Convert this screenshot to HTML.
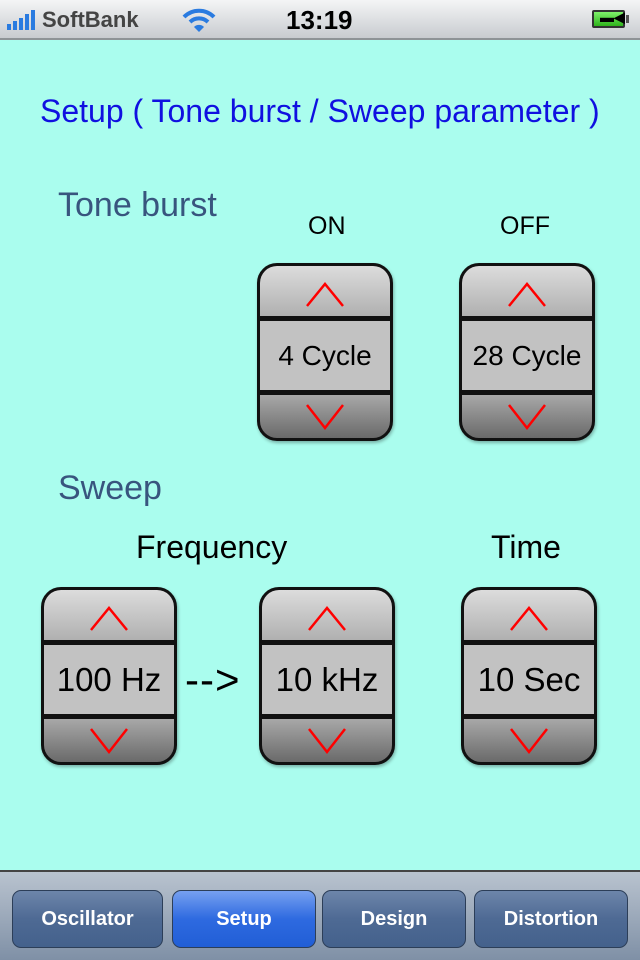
<!DOCTYPE html>
<html><head><meta charset="utf-8"><style>
*{margin:0;padding:0;box-sizing:border-box}
body{width:640px;height:960px;position:relative;overflow:hidden;background:#aafdee;font-family:"Liberation Sans",Arial,sans-serif}
.sb{position:absolute;left:0;top:0;width:640px;height:40px;background:linear-gradient(#f4f5f6,#c8cbcf);border-bottom:2px solid #8e9396}
.t{position:absolute;white-space:nowrap}
.sp{position:absolute;width:136px;height:178px;border:3px solid #111;border-radius:20px;overflow:hidden;background:#111;box-shadow:1px 2px 3px rgba(0,0,0,.3)}
.sp .a{position:absolute;left:0;right:0;top:0;height:50px;background:linear-gradient(#dcdcdc,#b0b0b0)}
.sp .m{position:absolute;left:0;right:0;top:55px;height:69px;background:#c2c2c2;font-size:28px;text-align:center;line-height:69px;color:#000}
.sp .b{position:absolute;left:0;right:0;top:129px;bottom:0;background:linear-gradient(#a8a8a8,#6a6a6a)}
.sp svg{position:absolute;left:50%;margin-left:-20px}
.tb{position:absolute;left:0;top:870px;width:640px;height:90px;background:linear-gradient(#b9c3cf,#7f90a6);border-top:2px solid #444}
.btn{position:absolute;top:18px;height:58px;border:1px solid #2c3e58;border-radius:9px;background:linear-gradient(#6d86aa,#4e6a94 50%,#44618c);color:#fff;font-weight:bold;font-size:20px;text-align:center;line-height:56px}
.btn.s{background:linear-gradient(#76a0f0,#2e6ae0 50%,#215ed6)}
</style></head><body>
<div class="sb">
<svg style="position:absolute;left:7px;top:10px" width="30" height="20"><rect x="0" y="14" width="4" height="6" fill="#2a7be0"/><rect x="6" y="11" width="4" height="9" fill="#2a7be0"/><rect x="12" y="8" width="4" height="12" fill="#2a7be0"/><rect x="18" y="4" width="4" height="16" fill="#2a7be0"/><rect x="24" y="0" width="4" height="20" fill="#2a7be0"/></svg>
<div class="t" style="left:42px;top:7px;font-size:22px;font-weight:bold;color:#444">SoftBank</div>
<svg style="position:absolute;left:182px;top:8px" width="34" height="24"><path d="M2 9 A21 21 0 0 1 32 9" stroke="#2a7be0" stroke-width="4" fill="none"/><path d="M8 14 A13 13 0 0 1 26 14" stroke="#2a7be0" stroke-width="4" fill="none"/><path d="M12 19 L17 24 L22 19 A7 7 0 0 0 12 19Z" fill="#2a7be0"/></svg>
<div class="t" style="left:286px;top:5px;font-size:26px;font-weight:bold;color:#000">13:19</div>
<div style="position:absolute;left:592px;top:10px;width:33px;height:18px;border:2px solid #333;background:linear-gradient(#7ef06a,#2fb41c);border-radius:2px"></div>
<div style="position:absolute;left:626px;top:15px;width:3px;height:8px;background:#555"></div>
<div class="t" style="left:600px;top:9px;font-size:14px;font-weight:bold;color:#000">▬◀</div>
</div>
<div class="t" style="left:40px;top:93px;font-size:32px;color:#1010e0">Setup ( Tone burst / Sweep parameter )</div>
<div class="t" style="left:58px;top:186px;font-size:34px;color:#38557e">Tone burst</div>
<div class="t" style="left:308px;top:212px;font-size:25px;color:#000">ON</div>
<div class="t" style="left:500px;top:212px;font-size:25px;color:#000">OFF</div>
<div class="t" style="left:58px;top:469px;font-size:34px;color:#38557e">Sweep</div>
<div class="t" style="left:136px;top:529px;font-size:32px;color:#000">Frequency</div>
<div class="t" style="left:491px;top:529px;font-size:32px;color:#000">Time</div>
<div class="t" style="left:185px;top:656px;font-size:42px;color:#000;letter-spacing:1px">--&gt;</div>

<div class="sp" style="left:257px;top:263px"><div class="a"><svg style="top:12px" width="40" height="30"><polyline points="2,28 20,6 38,28" stroke="#f00" stroke-width="2.5" fill="none"/></svg></div><div class="m">4 Cycle</div><div class="b"><svg style="top:8px" width="40" height="30"><polyline points="2,2 20,25 38,2" stroke="#f00" stroke-width="2.5" fill="none"/></svg></div></div>
<div class="sp" style="left:459px;top:263px"><div class="a"><svg style="top:12px" width="40" height="30"><polyline points="2,28 20,6 38,28" stroke="#f00" stroke-width="2.5" fill="none"/></svg></div><div class="m">28 Cycle</div><div class="b"><svg style="top:8px" width="40" height="30"><polyline points="2,2 20,25 38,2" stroke="#f00" stroke-width="2.5" fill="none"/></svg></div></div>
<div class="sp" style="left:41px;top:587px"><div class="a"><svg style="top:12px" width="40" height="30"><polyline points="2,28 20,6 38,28" stroke="#f00" stroke-width="2.5" fill="none"/></svg></div><div class="m" style="font-size:33px">100 Hz</div><div class="b"><svg style="top:8px" width="40" height="30"><polyline points="2,2 20,25 38,2" stroke="#f00" stroke-width="2.5" fill="none"/></svg></div></div>
<div class="sp" style="left:259px;top:587px"><div class="a"><svg style="top:12px" width="40" height="30"><polyline points="2,28 20,6 38,28" stroke="#f00" stroke-width="2.5" fill="none"/></svg></div><div class="m" style="font-size:33px">10 kHz</div><div class="b"><svg style="top:8px" width="40" height="30"><polyline points="2,2 20,25 38,2" stroke="#f00" stroke-width="2.5" fill="none"/></svg></div></div>
<div class="sp" style="left:461px;top:587px"><div class="a"><svg style="top:12px" width="40" height="30"><polyline points="2,28 20,6 38,28" stroke="#f00" stroke-width="2.5" fill="none"/></svg></div><div class="m" style="font-size:33px">10 Sec</div><div class="b"><svg style="top:8px" width="40" height="30"><polyline points="2,2 20,25 38,2" stroke="#f00" stroke-width="2.5" fill="none"/></svg></div></div>

<div class="tb">
<div class="btn" style="left:12px;width:151px">Oscillator</div>
<div class="btn s" style="left:172px;width:144px">Setup</div>
<div class="btn" style="left:322px;width:144px">Design</div>
<div class="btn" style="left:474px;width:154px">Distortion</div>
</div>
</body></html>
